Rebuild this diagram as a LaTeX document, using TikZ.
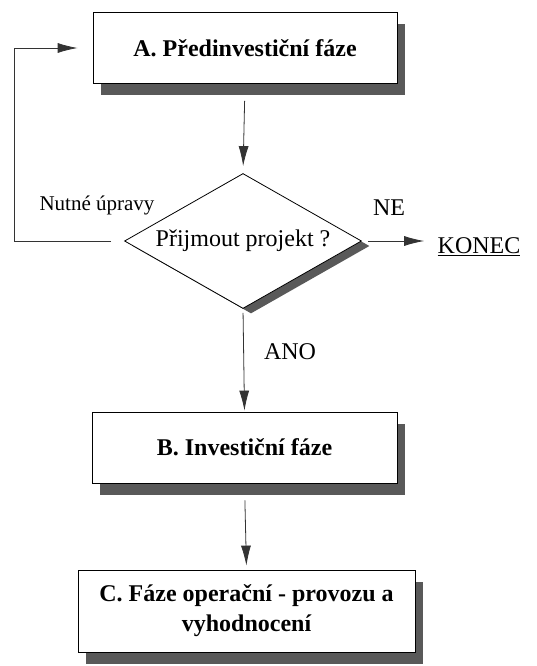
\documentclass[tikz,border=0pt]{standalone}
\usepackage{fontspec}
\setmainfont{Liberation Serif}
\usetikzlibrary{shapes.geometric,shadows,arrows.meta}
\pgfdeclarelayer{edgelayer}
\pgfdeclarelayer{nodelayer}
\pgfsetlayers{edgelayer,nodelayer,main}
\definecolor{shade}{rgb}{0.35,0.35,0.35}
\tikzstyle{phase}=[rectangle, draw=black, fill=white, line width=0.8, align=center, font=\bfseries\fontsize{24}{30}\selectfont, drop shadow={shadow xshift=8pt, shadow yshift=-12pt, fill=shade, opacity=1}]
\tikzstyle{decision}=[diamond, aspect=1.76, inner sep=0, draw=black, fill=white, line width=0.8, minimum width=237pt, minimum height=135pt, font=\fontsize{24}{28}\selectfont, drop shadow={shadow xshift=8pt, shadow yshift=-5pt, fill=shade, opacity=1}]
\tikzstyle{plain}=[font=\fontsize{24}{28}\selectfont]
\tikzstyle{arrow}=[-{Latex[length=20pt,width=10pt]}, draw=black!80, line width=0.8]

\begin{document}
\begin{tikzpicture}[x=1pt, y=-1pt]
            \useasboundingbox (0, 0) rectangle (537, 666);
            \begin{pgfonlayer}{nodelayer}
                \node [style=phase, minimum width=304pt, minimum height=71pt] (A) at (245, 48) {A. Předinvestiční fáze};
                \node [style=decision] (D) at (243, 241) {Přijmout projekt ?};
                \node [style=phase, minimum width=305pt, minimum height=71pt] (B) at (244.5, 447.5) {B. Investiční fáze};
                \node [style=phase, minimum width=337pt, minimum height=82pt] (C) at (246.5, 611) {C. Fáze operační - provozu a\\vyhodnocení};

                \node [style=plain] (konec) at (479, 247) {\underline{KONEC}};
                \node [style=plain, font=\fontsize{21}{26}\selectfont] (upravy) at (97, 205) {Nutné úpravy};
                \node [style=plain] (ne) at (389, 208) {NE};
                \node [style=plain] (ano) at (290, 352) {ANO};
                \coordinate (loop) at (14, 241);
            \end{pgfonlayer}
            \begin{pgfonlayer}{edgelayer}
                \draw [style=arrow, shorten <=17pt, shorten >=7pt] (A.south) to (D.north);
                \draw [style=arrow, shorten <=4pt, shorten >=1pt] (D.south) to (B.north);
                \draw [style=arrow, shorten <=17pt, shorten >=4pt] (B.south) to (C.north);
                \draw [style=arrow, shorten <=6pt, shorten >=10pt] (D.east) to (D.east -| konec.west);
                \draw [style=arrow, shorten <=13pt, shorten >=15pt] (D.west) -- (loop) |- (A.west);
            \end{pgfonlayer}
        \end{tikzpicture}
\end{document}
